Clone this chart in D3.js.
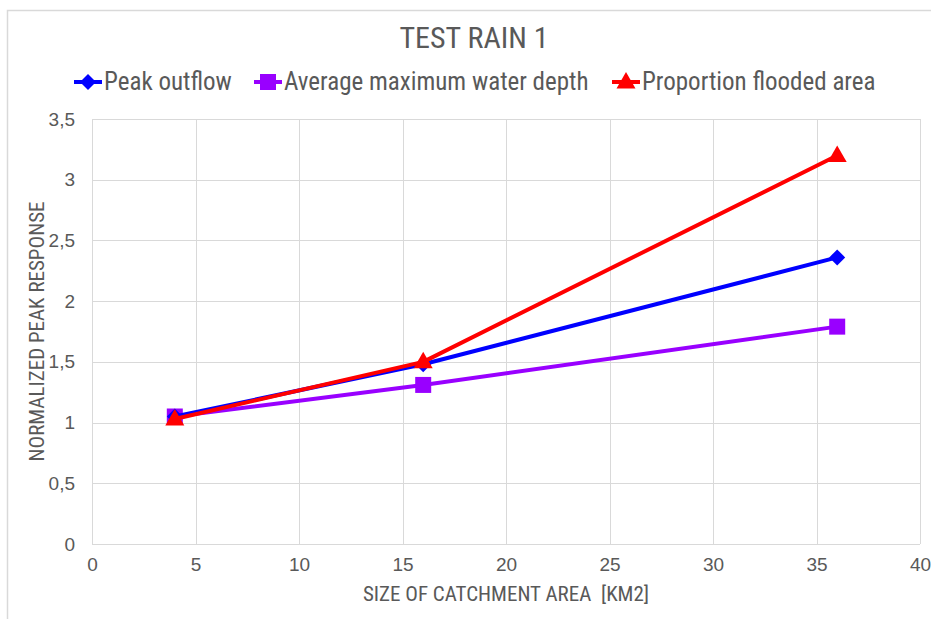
<!DOCTYPE html>
<html>
<head>
<meta charset="utf-8">
<script src="https://cdn.jsdelivr.net/npm/d3@7"></script>
<style>
  html, body { margin: 0; padding: 0; background: #fff; }
  svg { display: block; font-family: "Liberation Sans Narrow", "Roboto Condensed", "DejaVu Sans Condensed", sans-serif; }
</style>
</head>
<body>
<svg id="chart" width="931" height="619"></svg>
<script>
// Catchment sizes (km2) and normalized peak responses per series
const areas = [4, 16, 36];
const peakOutflow = [1.05, 1.48, 2.36];
const avgMaxDepth = [1.05, 1.31, 1.79];
const floodedArea = [1.03, 1.50, 3.20];

const seriesNames = ["Peak outflow", "Average maximum water depth", "Proportion flooded area"];
const seriesColors = ["#0000ff", "#9900ff", "#ff0000"];

const xTicks = [0, 5, 10, 15, 20, 25, 30, 35, 40];
const yTicks = [0, 0.5, 1, 1.5, 2, 2.5, 3, 3.5];

// Marker outlines centred on the data point
const markerPaths = [
  "M0,-8 L8,0 L0,8 L-8,0 Z",            // diamond
  "M-8,-8 H8 V8 H-8 Z",                 // square
  "M0,-10 L9.5,6.5 L-9.5,6.5 Z"         // triangle
];

const svg = d3.select("#chart");
const W = 931, H = 619;
const m = { left: 92, right: 11, top: 119, bottom: 75 };

// Outer chart frame (top and left edges visible)
svg.append("path")
  .attr("d", `M7.5,${H} V10.5 H${W}`)
  .attr("fill", "none").attr("stroke", "#d9d9d9").attr("stroke-width", 1.5);

const x = d3.scaleLinear().domain([0, 40]).range([m.left, W - m.right]);
const y = d3.scaleLinear().domain([0, 3.5]).range([H - m.bottom, m.top]);

const fmt = v => String(v).replace(".", ",");
const textColor = "#595959";

// Gridlines
const grid = svg.append("g");
grid.selectAll("line.h").data(yTicks).join("line")
  .attr("x1", x(0)).attr("x2", x(40))
  .attr("y1", d => Math.round(y(d)) + 0.5).attr("y2", d => Math.round(y(d)) + 0.5)
  .attr("stroke", "#d9d9d9").attr("stroke-width", 1);
grid.selectAll("line.v").data(xTicks).join("line")
  .attr("y1", y(0)).attr("y2", y(3.5))
  .attr("x1", d => Math.round(x(d)) + 0.5).attr("x2", d => Math.round(x(d)) + 0.5)
  .attr("stroke", "#d9d9d9").attr("stroke-width", 1);

// Axes (labels only)
const xAxis = svg.append("g").attr("transform", `translate(0,${y(0)})`)
  .call(d3.axisBottom(x).tickValues(xTicks).tickFormat(fmt).tickSize(0).tickPadding(14));
const yAxis = svg.append("g").attr("transform", `translate(${x(0)},0)`)
  .call(d3.axisLeft(y).tickValues(yTicks).tickFormat(fmt).tickSize(0).tickPadding(17));
[xAxis, yAxis].forEach(a => {
  a.select(".domain").remove();
  a.selectAll("text").attr("fill", textColor).style("font-size", "19px").style("font-family", null);
});

// Title
svg.append("text").attr("x", 474).attr("y", 48).attr("text-anchor", "middle")
  .attr("fill", textColor).style("font-size", "30px").text("TEST RAIN 1");

// Axis titles
svg.append("text").attr("x", 506).attr("y", 601).attr("text-anchor", "middle")
  .attr("fill", textColor).style("font-size", "21px").style("white-space", "pre")
  .text("SIZE OF CATCHMENT AREA  [KM2]");
svg.append("text").attr("transform", `translate(44,${(y(0) + y(3.5)) / 2}) rotate(-90)`)
  .attr("text-anchor", "middle").attr("fill", textColor).style("font-size", "21px")
  .text("NORMALIZED PEAK RESPONSE");

// Series lines and markers
const seriesValues = [peakOutflow, avgMaxDepth, floodedArea];
const line = d3.line().x(d => x(d[0])).y(d => y(d[1]));

// Draw order: depth, outflow, flooded on top
[1, 0, 2].forEach(i => {
  const pts = areas.map((a, k) => [a, seriesValues[i][k]]);
  const g = svg.append("g");
  g.append("path").attr("d", line(pts)).attr("fill", "none")
    .attr("stroke", seriesColors[i]).attr("stroke-width", 4).attr("stroke-linejoin", "round");
  g.selectAll("path.m").data(pts).join("path").attr("class", "m")
    .attr("transform", d => `translate(${x(d[0])},${y(d[1])})`)
    .attr("d", markerPaths[i])
    .attr("fill", seriesColors[i]);
});

// Legend
const legendX = [74, 254, 612];
const legend = svg.append("g");
seriesNames.forEach((name, i) => {
  const g = legend.append("g").attr("transform", `translate(${legendX[i]},82)`);
  g.append("line").attr("x1", 0).attr("x2", 28).attr("stroke", seriesColors[i]).attr("stroke-width", 4);
  g.append("path").attr("transform", "translate(14,0)")
    .attr("d", markerPaths[i]).attr("fill", seriesColors[i]);
  g.append("text").attr("x", 30).attr("y", 8).attr("fill", textColor)
    .style("font-size", "25px").text(name);
});
</script>
</body>
</html>
